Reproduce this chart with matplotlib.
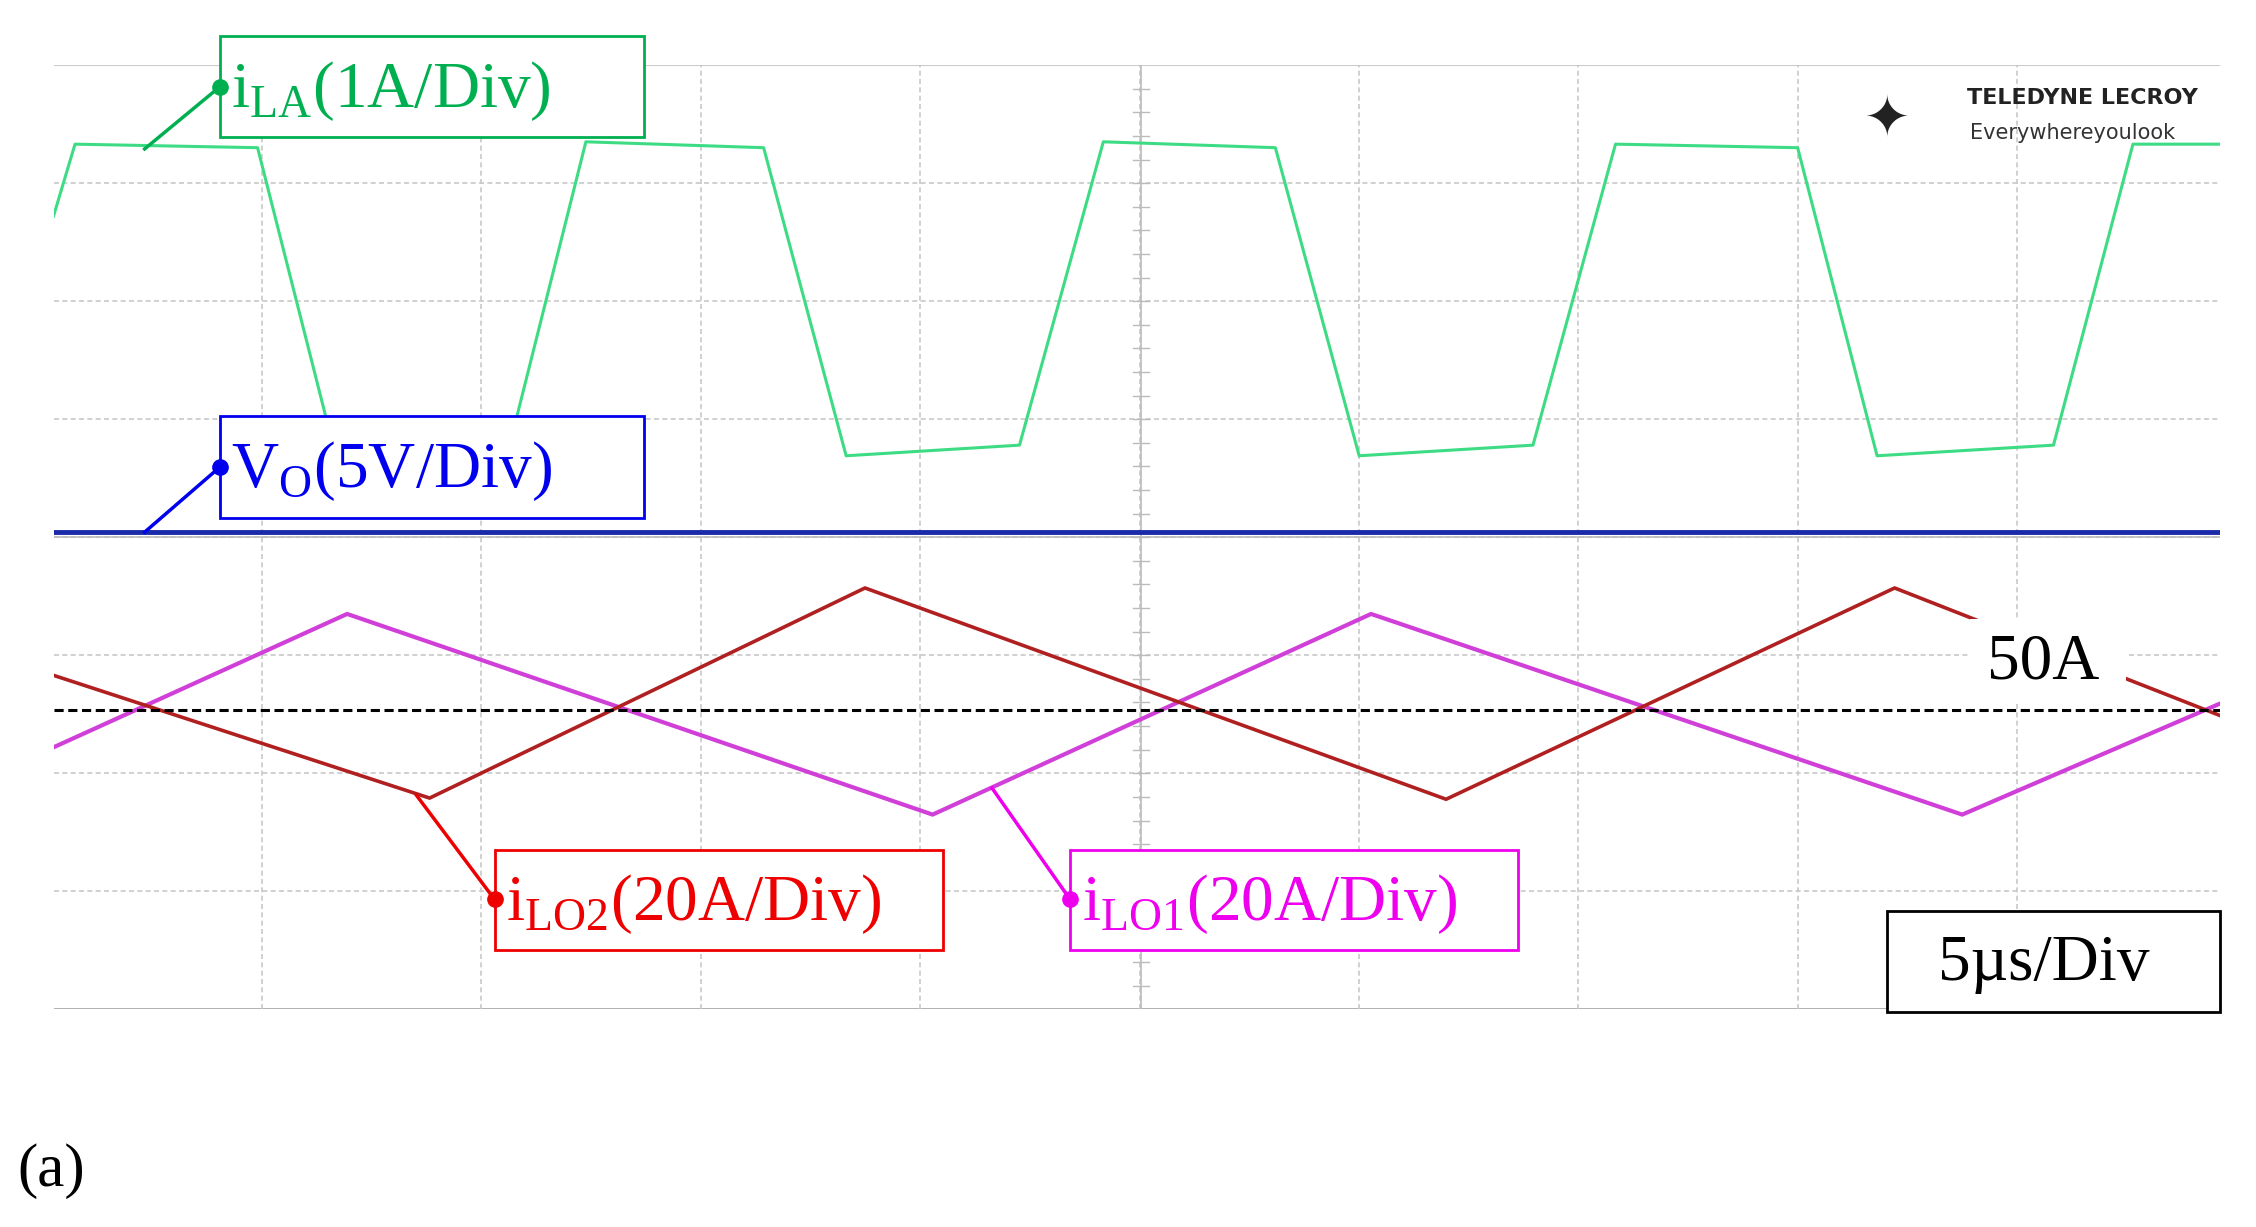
import numpy as np
import matplotlib; matplotlib.use("Agg")
import matplotlib.pyplot as plt
from matplotlib.patches import Rectangle

# time in us (5 us/div), amplitude in screen divisions (0..8)
t_ila = [0, 0.49, 4.65, 6.43, 10.38, 12.13, 16.18, 18.06, 22.01, 23.92, 27.84, 29.75,
         33.71, 35.59, 39.74, 41.55, 45.57, 47.38, 49.36]
ila = [6.72, 7.33, 7.30, 4.69, 4.76, 7.35, 7.30, 4.69, 4.78, 7.35, 7.30, 4.69,
       4.78, 7.33, 7.30, 4.69, 4.78, 7.33, 7.33]
t_vo = [0, 49.36]
vo = [4.04, 4.04]
t_ilo1 = [0, 6.69, 20.03, 30.02, 43.49, 49.36]
ilo1 = [2.22, 3.35, 1.65, 3.35, 1.65, 2.59]
t_ilo2 = [0, 8.57, 18.49, 31.73, 41.95, 49.36]
ilo2 = [2.83, 1.79, 3.57, 1.78, 3.57, 2.49]
ref_50a = 2.54

W, H = 1560, 848.5  # reference layout units
fig = plt.figure(figsize=(22.56, 12.27), dpi=100)
plt.rcParams["font.family"] = ["Liberation Serif", "DejaVu Serif"]
ax = fig.add_axes([37 / W, 1 - 698 / H, (1535 - 37) / W, (698 - 45) / H])
ax.set_xlim(0, 49.36); ax.set_ylim(0, 8)
ax.set_facecolor("white")
for s in ax.spines.values():
    s.set_visible(False)
ax.axhline(0, color="#aaaaaa", lw=2); ax.axhline(8, color="#cccccc", lw=1.5)
ax.set_xticks([]); ax.set_yticks([])
xg = 4.745 + 5 * np.arange(9)
for x in xg:
    ax.axvline(x, color="#c8c8c8", lw=1.2, ls=(0, (3, 2)))
for y in range(1, 8):
    ax.axhline(y, color="#c8c8c8", lw=1.2, ls=(0, (3, 2)))
ax.axvline(24.78, color="#bbbbbb", lw=1.2)
ax.axhline(4, color="#bbbbbb", lw=1.2)
for yy in np.arange(0.2, 8, 0.2):
    ax.plot([24.6, 24.96], [yy, yy], color="#bbbbbb", lw=1)

ax.plot(t_ila, ila, color="#3ddc84", lw=2.2)
ax.plot(t_vo, vo, color="#1a2aa8", lw=3.5)
ax.plot(t_ilo1, ilo1, color="#d040d8", lw=3)
ax.plot(t_ilo2, ilo2, color="#b02020", lw=2.6)
ax.axhline(ref_50a, color="black", lw=2.2, ls=(0, (3, 1.5)))

def box(x0, y0, x1, y1, color, lw=2):
    fig.patches.append(Rectangle((x0 / W, 1 - y1 / H), (x1 - x0) / W, (y1 - y0) / H,
                                 transform=fig.transFigure, fill=True, facecolor="white",
                                 edgecolor=color, lw=lw, zorder=5))

def leader(xa, ya, xb, yb, color):
    fig.add_artist(plt.Line2D([xa / W, xb / W], [1 - ya / H, 1 - yb / H], color=color, lw=2.5,
                              transform=fig.transFigure, zorder=6))
    fig.add_artist(plt.Line2D([xb / W], [1 - yb / H], marker="o", ms=11, color=color,
                              transform=fig.transFigure, zorder=7))

def label(x, y, txt, color, size=47):
    fig.text(x / W, 1 - y / H, txt, color=color, fontsize=size, va="center", ha="left", zorder=8)

box(152, 25, 445, 95, "#00b050"); leader(100, 103, 152, 60, "#00b050")
label(160, 63, r"i$_{\mathregular{LA}}$(1A/Div)", "#00b050")
box(152, 288, 445, 358, "#0000ee"); leader(100, 368, 152, 323, "#0000ee")
label(160, 326, r"V$_{\mathregular{O}}$(5V/Div)", "#0000ee")
box(342, 588, 652, 657, "#ee0000"); leader(288, 550, 342, 622, "#ee0000")
label(350, 625, r"i$_{\mathregular{LO2}}$(20A/Div)", "#ee0000")
box(740, 588, 1050, 657, "#ee00ee"); leader(686, 545, 740, 622, "#ee00ee")
label(748, 625, r"i$_{\mathregular{LO1}}$(20A/Div)", "#ee00ee")
box(1305, 630, 1535, 700, "black")
label(1340, 667, "5µs/Div", "black")
box(1362, 428, 1470, 486, "white", lw=0)
label(1374, 458, "50A", "black")
fig.text(1360 / W, 1 - 72 / H, "TELEDYNE LECROY", fontsize=16, fontweight="bold",
         family="DejaVu Sans", color="#222222")
fig.text(1362 / W, 1 - 96 / H, "Everywhereyoulook", fontsize=15, family="DejaVu Sans",
         color="#333333")
fig.text(1305 / W, 1 - 84 / H, "✦", fontsize=40, ha="center", va="center", color="#222222",
         family="DejaVu Sans")
fig.text(12 / W, 1 - 810 / H, "(a)", fontsize=44, va="center", color="black")
fig.savefig("out.png", dpi=100)
